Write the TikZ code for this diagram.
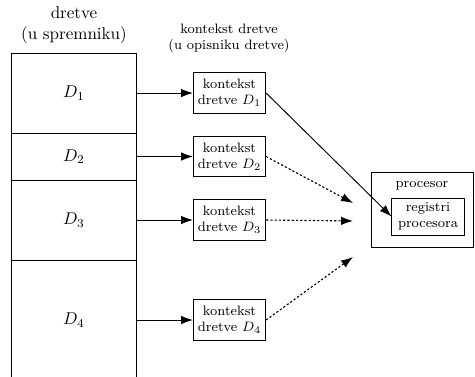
\documentclass[tikz,border=0pt]{standalone}
\usetikzlibrary{positioning,arrows.meta}

\tikzset{
  dretva/.style={draw, minimum width=2.56cm, inner sep=0pt, outer sep=0pt},
  kontekst/.style={draw, font=\footnotesize, align=center, minimum width=1.49cm, minimum height=0.83cm, inner sep=1.5pt},
  tockasto/.style={dash pattern=on 1.3pt off 1.2pt, line width=0.65pt},
}

\begin{document}
\begin{tikzpicture}[>={Latex[length=7pt,width=5pt]}, line width=0.55pt, node distance=1.176cm]
\useasboundingbox (0,0) rectangle (9.804,-7.761);
\clip (0,0) rectangle (9.804,-7.761);

\node[align=center] (naslovD) at (1.527,-0.52) {dretve\\(u spremniku)};
\node[align=center, font=\footnotesize] (naslovK) at (4.727,-0.79) {kontekst dretve\\(u opisniku dretve)};

\node[dretva, minimum height=1.651cm] (d1) at (1.527,-1.920) {$D_1$};
\node[dretva, minimum height=0.970cm, below=0pt of d1] (d2) {$D_2$};
\node[dretva, minimum height=1.651cm, below=0pt of d2] (d3) {$D_3$};
\node[dretva, minimum height=2.477cm, below=0pt of d3] (d4) {$D_4$};

\node[kontekst, right=of d1] (k1) {kontekst\\dretve $D_1$};
\node[kontekst, right=of d2] (k2) {kontekst\\dretve $D_2$};
\node[kontekst, right=of d3] (k3) {kontekst\\dretve $D_3$};
\node[kontekst, right=of d4] (k4) {kontekst\\dretve $D_4$};

\foreach \i in {1,2,3,4}{
\draw[->] (d\i) -- (k\i);
}

\node[draw, minimum width=2.115cm, minimum height=1.548cm, inner sep=0pt] (proc) at (8.715,-4.324) {};
\node[font=\footnotesize, inner sep=0pt] (procnaslov) at (8.71,-3.84) {procesor};
\node[kontekst, minimum height=0.764cm] (reg) at (8.834,-4.469) {registri\\procesora};

\coordinate (t2) at (7.286,-4.190);
\coordinate (t3) at (7.286,-4.561);
\coordinate (t4) at (7.286,-5.304);

\draw[->] (k1.east) -- (reg.west);
\draw[->, tockasto] (k2.east) -- (t2);
\draw[->, tockasto] (k3.east) -- (t3);
\draw[->, tockasto] (k4.east) -- (t4);

\end{tikzpicture}
\end{document}
